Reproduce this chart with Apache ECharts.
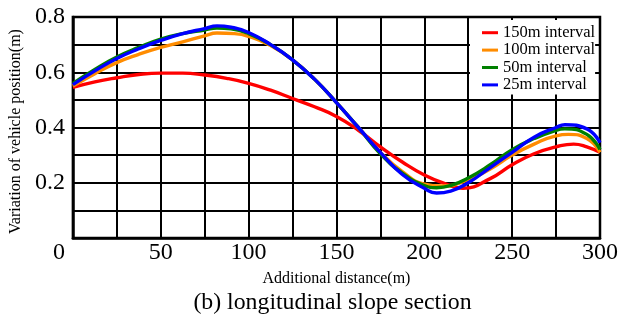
<!DOCTYPE html>
<html>
<head>
<meta charset="utf-8">
<script src="https://cdn.jsdelivr.net/npm/echarts@6/dist/echarts.min.js"></script>
<style>html,body{margin:0;padding:0;background:#fff}#c{width:628px;height:325px}</style>
</head>
<body>
<div id="c"></div>
<script>
var seriesNames = ['150m interval', '100m interval', '50m interval', '25m interval'];
var seriesColors = ['#ff0000', '#ff8c00', '#008000', '#0000ff'];
var xTickLabels = ['0', '50', '100', '150', '200', '250', '300'];
var yTickLabels = ['0.2', '0.4', '0.6', '0.8'];

var dist150 = [0, 12.5, 25, 37.5, 50, 62.5, 75, 87.5, 100, 112.5, 125, 137.5, 150, 162.5, 175, 187.5, 200, 212.5, 222, 237.5, 250, 262.5, 275, 285, 292.5, 300];
var val150  = [0.545, 0.565, 0.58, 0.592, 0.597, 0.597, 0.59, 0.578, 0.56, 0.535, 0.505, 0.475, 0.44, 0.39, 0.33, 0.275, 0.228, 0.195, 0.18, 0.215, 0.265, 0.305, 0.33, 0.34, 0.33, 0.31];

var dist100 = [0, 12.5, 25, 37.5, 50, 62.5, 75, 82, 92, 100, 112.5, 125, 137.5, 150, 162.5, 175, 187.5, 200, 210, 225, 237.5, 250, 262.5, 275, 282, 292.5, 300];
var val100  = [0.55, 0.595, 0.635, 0.665, 0.69, 0.71, 0.732, 0.742, 0.74, 0.73, 0.697, 0.645, 0.575, 0.49, 0.40, 0.31, 0.24, 0.195, 0.188, 0.21, 0.25, 0.30, 0.34, 0.37, 0.375, 0.36, 0.31];

var dist50 = [0, 12.5, 25, 37.5, 50, 62.5, 75, 82, 90, 100, 112.5, 125, 137.5, 150, 162.5, 175, 187.5, 200, 207, 215, 225, 237.5, 250, 262.5, 275, 280, 292.5, 300];
var val50  = [0.56, 0.61, 0.655, 0.69, 0.72, 0.74, 0.753, 0.76, 0.757, 0.74, 0.70, 0.645, 0.575, 0.49, 0.40, 0.305, 0.235, 0.19, 0.182, 0.19, 0.217, 0.265, 0.32, 0.36, 0.39, 0.395, 0.375, 0.32];

var dist25 = [0, 12.5, 25, 37.5, 50, 62.5, 75, 82, 90, 100, 112.5, 125, 137.5, 150, 162.5, 175, 187.5, 200, 207, 215, 225, 237.5, 250, 262.5, 275, 280, 292.5, 300];
var val25  = [0.555, 0.605, 0.65, 0.685, 0.715, 0.74, 0.758, 0.768, 0.763, 0.744, 0.70, 0.645, 0.575, 0.49, 0.40, 0.31, 0.23, 0.18, 0.163, 0.17, 0.20, 0.255, 0.31, 0.365, 0.40, 0.41, 0.395, 0.345];

function pairs(xs, ys) { return xs.map(function (x, i) { return [x, ys[i]]; }); }
var allData = [pairs(dist150, val150), pairs(dist100, val100), pairs(dist50, val50), pairs(dist25, val25)];

var serif = 'Liberation Serif';
var chart = echarts.init(document.getElementById('c'), null, {renderer: 'canvas'});
chart.setOption({
  animation: false,
  backgroundColor: '#fff',
  title: {
    text: '(b) longitudinal slope section',
    left: 327.5, top: 286, textAlign: 'center',
    textStyle: {fontFamily: serif, fontSize: 23.8, fontWeight: 'normal', color: '#000'}
  },
  grid: {left: 72, right: 28, top: 17, bottom: 87, show: true, borderColor: '#000', borderWidth: 2.5, backgroundColor: 'transparent'},
  legend: {
    orient: 'vertical', left: 470, top: 20,
    backgroundColor: '#fff', padding: [4, 0, 1, 12], itemGap: 0,
    itemWidth: 16, itemHeight: 3, icon: 'rect',
    data: seriesNames,
    textStyle: {fontFamily: serif, fontSize: 16.5, color: '#000', lineHeight: 17.4}
  },
  xAxis: {
    type: 'value', min: 0, max: 300, interval: 25,
    name: 'Additional distance(m)', nameLocation: 'middle', nameGap: 33,
    nameTextStyle: {fontFamily: serif, fontSize: 16, color: '#000'},
    axisLine: {show: true, lineStyle: {color: '#000', width: 2.5}},
    axisTick: {show: false},
    splitLine: {show: true, lineStyle: {color: '#000', width: 2}},
    axisLabel: {
      margin: 3, fontFamily: serif, fontSize: 24, color: '#000',
      formatter: function (v) {
        var s = String(v);
        if (xTickLabels.indexOf(s) < 0) return '';
        return v === 0 ? '{z|0}' : s;
      },
      rich: {z: {fontFamily: serif, fontSize: 24, color: '#000', padding: [0, 28, 0, 0]}}
    }
  },
  yAxis: {
    type: 'value', min: 0, max: 0.8, interval: 0.1,
    name: 'Variation of vehicle position(m)', nameLocation: 'middle', nameGap: 43,
    nameTextStyle: {fontFamily: serif, fontSize: 16, color: '#000', padding: [0, 8, 0, 0]},
    axisLine: {show: true, lineStyle: {color: '#000', width: 2.5}},
    axisTick: {show: false},
    splitLine: {show: true, lineStyle: {color: '#000', width: 2}},
    axisLabel: {
      margin: 8, fontFamily: serif, fontSize: 24, color: '#000',
      formatter: function (v) {
        var s = v.toFixed(1);
        return yTickLabels.indexOf(s) >= 0 ? s : '';
      }
    }
  },
  series: seriesNames.map(function (n, i) {
    return {
      name: n, type: 'line', data: allData[i], smooth: 0.5, showSymbol: false,
      color: seriesColors[i],
      lineStyle: {width: 3.4, color: seriesColors[i]}, z: 2 + i
    };
  })
});
</script>
</body>
</html>
